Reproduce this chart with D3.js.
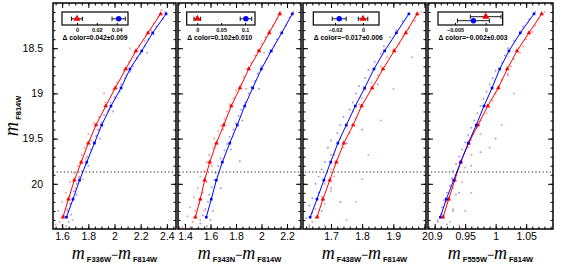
<!DOCTYPE html>
<html>
<head>
<meta charset="utf-8">
<script src="https://cdn.jsdelivr.net/npm/d3@7"></script>
<style>
  body { margin: 0; background: #fff; }
  svg { display: block; }
</style>
</head>
<body>
<svg id="chart" width="581" height="271"></svg>
<script>
// fiducial magnitudes (same for every panel)
const mags = [18.12, 18.33, 18.53, 18.73, 18.94, 19.14, 19.35, 19.55, 19.76, 19.96, 20.17, 20.37];

// fiducial colours, top -> bottom
const f336Red  = [2.353, 2.256, 2.164, 2.086, 2.006, 1.933, 1.859, 1.800, 1.746, 1.693, 1.648, 1.606];
const f336Blue = [2.394, 2.292, 2.208, 2.118, 2.050, 1.973, 1.902, 1.847, 1.788, 1.733, 1.683, 1.633];
const f343Red  = [2.143, 2.061, 1.981, 1.900, 1.831, 1.763, 1.704, 1.646, 1.594, 1.554, 1.520, 1.481];
const f343Blue = [2.242, 2.159, 2.077, 1.999, 1.931, 1.868, 1.810, 1.751, 1.693, 1.646, 1.606, 1.567];
const f438Red  = [1.977, 1.940, 1.903, 1.867, 1.832, 1.798, 1.771, 1.741, 1.717, 1.696, 1.674, 1.655];
const f438Blue = [1.950, 1.910, 1.872, 1.838, 1.808, 1.778, 1.749, 1.722, 1.699, 1.677, 1.655, 1.633];
const f555Red  = [1.0755, 1.0546, 1.035, 1.019, 1.0043, 0.9869, 0.971, 0.9557, 0.9426, 0.9328, 0.923, 0.9136];
const f555Blue = [1.0628, 1.0404, 1.0218, 1.0066, 0.994, 0.9808, 0.9682, 0.9551, 0.9426, 0.9311, 0.919, 0.9092];

// individual stars [colour, mag]
const f336RedStars = [[2.36,18.08],[2.33,18.15],[2.30,18.22],[2.28,18.3],[2.24,18.36],[2.23,18.42],[2.19,18.47],[2.15,18.55],[2.17,18.6],[2.11,18.65],[2.07,18.75],[2.09,18.8],[2.02,18.88],[1.99,18.96],[2.01,19.05],[1.93,19.1],[1.95,19.2],[1.88,19.26],[1.84,19.33],[1.87,19.4],[1.80,19.45],[1.82,19.52],[1.77,19.6],[1.75,19.68],[1.78,19.72],[1.72,19.8],[1.69,19.88],[1.73,19.92],[1.66,19.98],[1.70,20.05],[1.63,20.1],[1.66,20.14],[1.60,20.2],[1.64,20.28],[1.57,20.3],[1.61,20.36],[1.58,20.42],[1.55,20.45],[1.63,20.47],[1.68,20.4],[1.92,19.0],[2.12,18.5],[1.85,19.55],[1.76,19.95]];
const f336BlueStars = [[2.39,18.1],[2.37,18.18],[2.32,18.26],[2.30,18.35],[2.26,18.4],[2.23,18.48],[2.20,18.56],[2.17,18.62],[2.14,18.7],[2.12,18.76],[2.08,18.83],[2.05,18.9],[2.04,18.98],[2.00,19.04],[1.97,19.1],[1.96,19.18],[1.92,19.24],[1.90,19.32],[1.88,19.4],[1.86,19.47],[1.84,19.54],[1.82,19.62],[1.79,19.7],[1.78,19.78],[1.75,19.86],[1.73,19.93],[1.71,20.0],[1.69,20.08],[1.68,20.16],[1.66,20.22],[1.64,20.3],[1.62,20.36],[1.65,20.42],[1.60,20.46],[1.67,20.34],[1.71,20.12],[1.80,19.8],[1.89,19.5],[1.99,19.2],[2.25,18.55]];
const f343RedStars = [[2.15,18.1],[2.12,18.18],[2.09,18.25],[2.06,18.3],[2.03,18.38],[2.00,18.45],[1.97,18.52],[1.95,18.58],[1.92,18.66],[1.89,18.73],[1.86,18.82],[1.84,18.9],[1.80,18.97],[1.78,19.05],[1.75,19.12],[1.73,19.2],[1.71,19.28],[1.68,19.36],[1.66,19.42],[1.63,19.5],[1.62,19.6],[1.59,19.68],[1.57,19.76],[1.61,19.8],[1.55,19.86],[1.52,19.92],[1.57,19.98],[1.50,20.05],[1.54,20.1],[1.47,20.15],[1.51,20.22],[1.44,20.26],[1.48,20.3],[1.42,20.36],[1.46,20.42],[1.40,20.45],[1.52,20.4],[1.38,20.48],[1.55,20.3],[1.44,20.48],[1.70,19.4],[1.88,18.95],[2.02,18.55]];
const f343BlueStars = [[2.25,18.1],[2.22,18.16],[2.19,18.25],[2.16,18.33],[2.12,18.4],[2.10,18.47],[2.06,18.55],[2.04,18.62],[2.00,18.7],[1.97,18.78],[1.95,18.86],[1.92,18.93],[1.90,19.0],[1.87,19.1],[1.84,19.18],[1.82,19.25],[1.80,19.33],[1.78,19.4],[1.75,19.48],[1.73,19.56],[1.71,19.63],[1.68,19.72],[1.66,19.8],[1.64,19.88],[1.63,19.96],[1.61,20.04],[1.59,20.12],[1.58,20.2],[1.56,20.28],[1.54,20.35],[1.60,20.4],[1.52,20.44],[1.62,20.3],[1.68,20.05],[1.57,20.47],[1.76,19.62],[1.85,19.3],[1.83,19.75],[1.98,18.95]];
const f438RedStars = [[1.99,18.1],[1.97,18.2],[1.95,18.28],[1.93,18.36],[1.92,18.45],[1.90,18.52],[1.88,18.6],[1.86,18.7],[1.85,18.8],[1.83,18.88],[1.81,18.96],[1.80,19.05],[1.79,19.12],[1.77,19.2],[1.78,19.28],[1.75,19.36],[1.76,19.44],[1.73,19.5],[1.74,19.6],[1.71,19.68],[1.72,19.76],[1.70,19.84],[1.71,19.92],[1.68,20.0],[1.70,20.08],[1.67,20.14],[1.68,20.22],[1.65,20.28],[1.66,20.36],[1.64,20.42],[1.68,20.46],[1.63,20.48],[1.82,19.68],[1.80,19.95],[1.78,20.2],[1.86,19.3],[1.75,20.4],[1.90,18.95],[1.96,18.6]];
const f438BlueStars = [[1.95,18.12],[1.93,18.2],[1.91,18.3],[1.89,18.38],[1.87,18.48],[1.86,18.56],[1.84,18.65],[1.82,18.74],[1.81,18.83],[1.79,18.92],[1.78,19.0],[1.77,19.1],[1.76,19.18],[1.74,19.26],[1.73,19.35],[1.72,19.44],[1.70,19.52],[1.69,19.6],[1.70,19.68],[1.68,19.76],[1.67,19.84],[1.66,19.92],[1.65,20.0],[1.66,20.1],[1.64,20.16],[1.63,20.24],[1.64,20.32],[1.62,20.38],[1.63,20.46],[1.67,20.3],[1.70,20.05],[1.75,19.55],[1.80,19.4],[1.73,20.2],[1.85,18.9]];
const f555RedStars = [[1.08,18.1],[1.07,18.18],[1.065,18.25],[1.06,18.32],[1.05,18.4],[1.045,18.48],[1.04,18.55],[1.03,18.62],[1.025,18.7],[1.02,18.78],[1.01,18.85],[1.005,18.92],[1.0,19.0],[0.995,19.08],[0.99,19.15],[0.985,19.22],[0.975,19.3],[0.97,19.38],[0.975,19.45],[0.96,19.52],[0.955,19.6],[0.96,19.68],[0.945,19.75],[0.95,19.82],[0.935,19.9],[0.945,19.98],[0.93,20.05],[0.935,20.12],[0.92,20.2],[0.93,20.28],[0.915,20.35],[0.925,20.42],[0.91,20.48],[0.95,20.3],[0.96,20.1],[0.99,19.6],[1.01,19.35],[1.03,19.0],[0.905,20.4],[0.94,20.46]];
const f555BlueStars = [[1.065,18.1],[1.055,18.18],[1.045,18.26],[1.04,18.34],[1.03,18.42],[1.02,18.5],[1.015,18.58],[1.01,18.66],[1.0,18.75],[0.995,18.83],[0.99,18.9],[0.985,18.98],[0.98,19.06],[0.975,19.14],[0.97,19.22],[0.965,19.3],[0.96,19.38],[0.955,19.46],[0.95,19.54],[0.945,19.62],[0.94,19.7],[0.935,19.78],[0.93,19.86],[0.928,19.94],[0.925,20.02],[0.92,20.1],[0.915,20.18],[0.912,20.26],[0.91,20.34],[0.905,20.42],[0.92,20.45],[0.9,20.48],[0.93,20.3],[0.94,20.1],[0.96,19.8],[1.0,19.5],[1.02,18.8],[0.975,19.65]];

// colour differences shown in the inset boxes
const deltas      = [0.042, 0.102, -0.017, -0.002];
const deltaErrs   = ['0.009', '0.010', '0.006', '0.003'];
const redErrs     = [0.0055, 0.007, 0.0034, 0.0025];
const blueErrs    = [0.0067, 0.012, 0.005, 0.0026];

const filters     = ['F336W', 'F343N', 'F438W', 'F555W'];
const xTicks      = [[1.6, 1.8, 2, 2.2, 2.4], [1.4, 1.6, 1.8, 2, 2.2], [1.7, 1.8, 1.9, 2], [0.9, 0.95, 1, 1.05]];
const legendTicks = [[0, 0.02, 0.04], [0, 0.05, 0.1], [-0.02, 0], [-0.005, 0]];
const yTicks      = [18.5, 19, 19.5, 20];
const cutMag      = 19.87;

// layout
const panelX = [53, 178, 303, 428];
const panelW = [123, 123, 123, 125];
const xDomains = [[1.53, 2.47], [1.345, 2.31], [1.61, 2.005], [0.889, 1.094]];
const minorStep = [0.05, 0.05, 0.02, 0.01];
const legendBox = [[9, 75], [8.7, 77], [10.3, 76], [10, 74.7]];   // relative to panel left
const legendDom = [[-0.0151, 0.0514], [-0.0222, 0.121], [-0.0355, 0.0114], [-0.00777, 0.00277]];

const RED = '#ff0000', BLUE = '#0000ff';
const SANS = '"Liberation Sans", Arial, sans-serif';
const SERIF = '"Liberation Serif", "Times New Roman", serif';

const panels = filters.map((f, i) => ({
  filter: f,
  red: [f336Red, f343Red, f438Red, f555Red][i],
  blue: [f336Blue, f343Blue, f438Blue, f555Blue][i],
  redStars: [f336RedStars, f343RedStars, f438RedStars, f555RedStars][i],
  blueStars: [f336BlueStars, f343BlueStars, f438BlueStars, f555BlueStars][i],
}));

const svg = d3.select('#chart');
const y = d3.scaleLinear().domain([18.0, 20.5]).range([3, 229]);
const yMinor = d3.range(18.1, 20.45, 0.1).map(v => +v.toFixed(2));

panels.forEach((p, i) => {
  const x0 = panelX[i], w = panelW[i];
  const x = d3.scaleLinear().domain(xDomains[i]).range([x0, x0 + w]);
  const g = svg.append('g');

  g.append('clipPath').attr('id', 'clip' + i)
    .append('rect').attr('x', x0).attr('y', 3).attr('width', w).attr('height', 226);
  const plot = g.append('g').attr('clip-path', `url(#clip${i})`);

  // stars
  plot.selectAll('.bs').data(p.blueStars).join('rect')
    .attr('x', d => x(d[0]) - 0.8).attr('y', d => y(d[1]) - 0.8)
    .attr('width', 1.6).attr('height', 1.6)
    .attr('fill', '#8c8cff');
  plot.selectAll('.rs').data(p.redStars).join('rect')
    .attr('x', d => x(d[0]) - 0.8).attr('y', d => y(d[1]) - 0.8)
    .attr('width', 1.6).attr('height', 1.6)
    .attr('fill', '#ff8c8c');

  // fiducial lines
  const line = d3.line().x(d => x(d[0])).y(d => y(d[1]));
  const redPts = p.red.map((c, k) => [c, mags[k]]);
  const bluePts = p.blue.map((c, k) => [c, mags[k]]);
  plot.append('path').attr('d', line(redPts)).attr('fill', 'none').attr('stroke', RED).attr('stroke-width', 1);
  plot.append('path').attr('d', line(bluePts)).attr('fill', 'none').attr('stroke', BLUE).attr('stroke-width', 1);

  plot.selectAll('.rm').data(redPts).join('path')
    .attr('transform', d => `translate(${x(d[0])},${y(d[1])})`)
    .attr('d', d3.symbol(d3.symbolTriangle, 9)).attr('fill', RED);
  plot.selectAll('.bm').data(bluePts).join('rect')
    .attr('x', d => x(d[0]) - 1.3).attr('y', d => y(d[1]) - 1.3)
    .attr('width', 2.6).attr('height', 2.6).attr('fill', BLUE);

  // ticks
  const minor = d3.range(xDomains[i][0], xDomains[i][1], minorStep[i])
    .map(v => Math.ceil(v / minorStep[i] - 1e-6) * minorStep[i])
    .filter(v => v >= xDomains[i][0] && v <= xDomains[i][1]);
  const tickStyle = s => s.call(a => a.select('.domain').remove())
    .call(a => a.selectAll('line').attr('stroke', '#000').attr('stroke-width', 1));

  g.append('g').attr('transform', `translate(0,229)`)
    .call(d3.axisBottom(x).tickValues(minor).tickSize(-2.5).tickFormat('')).call(tickStyle);
  g.append('g').attr('transform', `translate(0,3)`)
    .call(d3.axisTop(x).tickValues(minor).tickSize(-2.5).tickFormat('')).call(tickStyle);
  g.append('g').attr('transform', `translate(0,3)`)
    .call(d3.axisTop(x).tickValues(xTicks[i]).tickSize(-5).tickFormat('')).call(tickStyle);
  const bx = g.append('g').attr('transform', `translate(0,229)`)
    .call(d3.axisBottom(x).tickValues(xTicks[i]).tickSize(-5).tickPadding(4).tickFormat(d => String(d)))
    .call(tickStyle);
  bx.selectAll('text').attr('font-family', SANS).attr('font-size', 10.5).attr('fill', '#000');

  g.append('g').attr('transform', `translate(${x0},0)`)
    .call(d3.axisLeft(y).tickValues(yMinor).tickSize(-2.5).tickFormat('')).call(tickStyle);
  g.append('g').attr('transform', `translate(${x0 + w},0)`)
    .call(d3.axisRight(y).tickValues(yMinor).tickSize(-2.5).tickFormat('')).call(tickStyle);
  g.append('g').attr('transform', `translate(${x0 + w},0)`)
    .call(d3.axisRight(y).tickValues(yTicks).tickSize(-5).tickFormat('')).call(tickStyle);
  const ly = g.append('g').attr('transform', `translate(${x0},0)`)
    .call(d3.axisLeft(y).tickValues(yTicks).tickSize(-5).tickPadding(10)
      .tickFormat(d => (i === 0 ? String(d) : '')))
    .call(tickStyle);
  ly.selectAll('text').attr('font-family', SANS).attr('font-size', 10.5).attr('fill', '#000');

  // frame
  g.append('rect').attr('x', x0).attr('y', 3).attr('width', w).attr('height', 226)
    .attr('fill', 'none').attr('stroke', '#000').attr('stroke-width', 1.5);

  // inset box
  const lb = legendBox[i];
  const lx = d3.scaleLinear().domain(legendDom[i]).range([x0 + lb[0], x0 + lb[1]]);
  g.append('rect').attr('x', x0 + lb[0]).attr('y', 12).attr('width', lb[1] - lb[0]).attr('height', 13)
    .attr('fill', '#fff').attr('stroke', '#000').attr('stroke-width', 1.2);
  g.append('g').attr('transform', 'translate(0,25)')
    .call(d3.axisBottom(lx).tickValues(legendTicks[i]).tickSize(-2).tickPadding(3)
      .tickFormat(d => (d < 0 ? '\u2212' + String(-d) : String(d))))
    .call(tickStyle)
    .call(a => a.selectAll('text').attr('font-family', SANS).attr('font-size', 5.5)
      .attr('font-weight', 'bold').attr('fill', '#000'));

  const ry = i === 3 ? 16.7 : 18.8, byy = i === 3 ? 20.7 : 18.8;
  const errBar = (cx, cy, err) => {
    const eg = g.append('g').attr('stroke', '#000').attr('stroke-width', 0.9);
    eg.append('line').attr('x1', lx(cx - err)).attr('x2', lx(cx + err)).attr('y1', cy).attr('y2', cy);
    eg.append('line').attr('x1', lx(cx - err)).attr('x2', lx(cx - err)).attr('y1', cy - 2.2).attr('y2', cy + 2.2);
    eg.append('line').attr('x1', lx(cx + err)).attr('x2', lx(cx + err)).attr('y1', cy - 2.2).attr('y2', cy + 2.2);
  };
  errBar(0, ry, redErrs[i]);
  errBar(deltas[i], byy, blueErrs[i]);
  g.append('path').attr('transform', `translate(${lx(0)},${ry})`)
    .attr('d', d3.symbol(d3.symbolTriangle, 22)).attr('fill', RED);
  g.append('circle').attr('cx', lx(deltas[i])).attr('cy', byy).attr('r', 2.7).attr('fill', BLUE);

  const dTxt = (deltas[i] < 0 ? '\u2212' + (-deltas[i]).toFixed(3) : deltas[i].toFixed(3));
  g.append('text').attr('x', x0 + lb[0] + 0.5).attr('y', 40)
    .attr('font-family', SANS).attr('font-size', 6.8).attr('font-weight', 'bold')
    .text(`\u0394 color=${dTxt}\u00b1${deltaErrs[i]}`);

  // x title
  const t = svg.append('text').attr('x', x0 + w / 2).attr('y', 259).attr('text-anchor', 'middle');
  t.append('tspan').attr('font-family', SERIF).attr('font-style', 'italic').attr('font-size', 18).text('m');
  t.append('tspan').attr('font-family', SANS).attr('font-weight', 'bold').attr('font-size', 7.5)
    .attr('dx', 2).attr('dy', 2.5).text(p.filter);
  t.append('tspan').attr('font-family', SANS).attr('font-size', 12).attr('dy', -2.5).text('\u2212');
  t.append('tspan').attr('font-family', SERIF).attr('font-style', 'italic').attr('font-size', 18).text('m');
  t.append('tspan').attr('font-family', SANS).attr('font-weight', 'bold').attr('font-size', 7.5)
    .attr('dx', 2).attr('dy', 2.5).text('F814W');
});

// magnitude cut
svg.append('line').attr('x1', panelX[0]).attr('x2', panelX[3] + panelW[3])
  .attr('y1', y(cutMag)).attr('y2', y(cutMag))
  .attr('stroke', '#000').attr('stroke-width', 0.9).attr('stroke-dasharray', '1.2,2.4');

// y title
const yt = svg.append('text').attr('transform', 'translate(18,116) rotate(-90)').attr('text-anchor', 'middle');
yt.append('tspan').attr('font-family', SERIF).attr('font-style', 'italic').attr('font-size', 20).text('m');
yt.append('tspan').attr('font-family', SANS).attr('font-weight', 'bold').attr('font-size', 7.5)
  .attr('dx', 2).attr('dy', 3).text('F814W');
</script>
</body>
</html>
